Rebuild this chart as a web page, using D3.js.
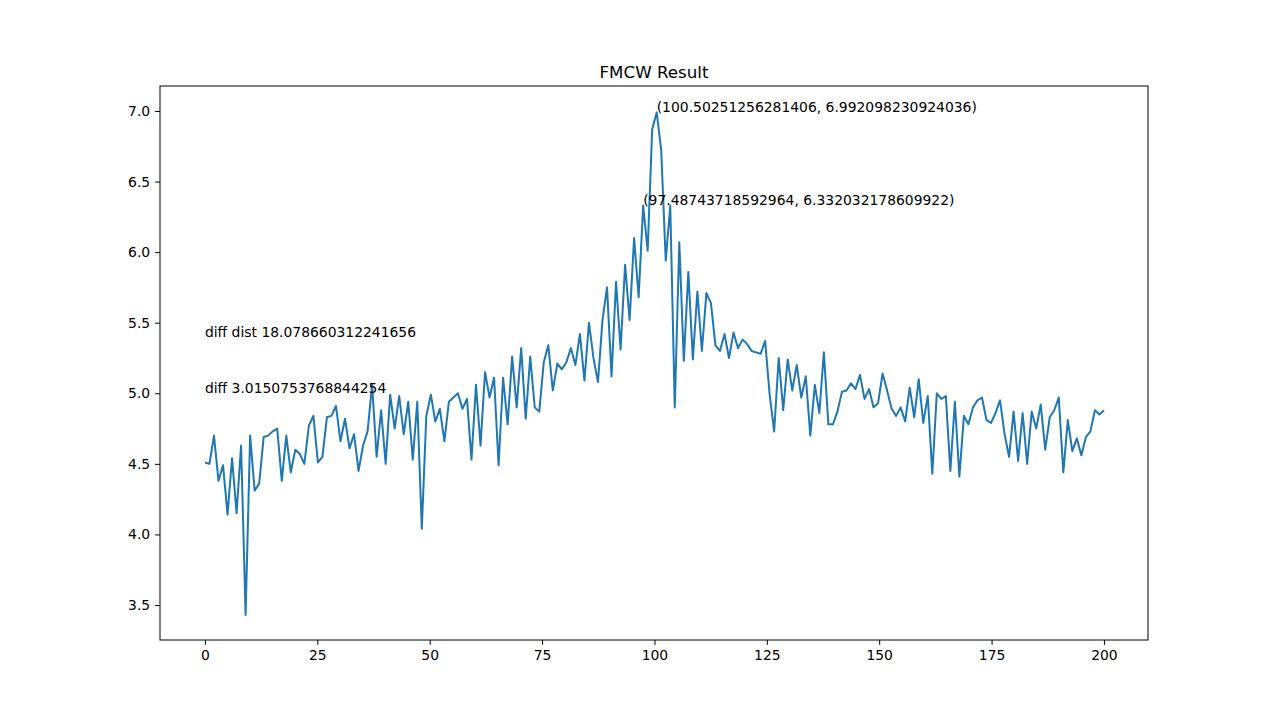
<!DOCTYPE html>
<html>
<head>
<meta charset="utf-8">
<script src="https://cdn.jsdelivr.net/npm/d3@7"></script>
<style>
body { margin: 0; background: #fff; }
text { font-family: "DejaVu Sans", sans-serif; }
</style>
</head>
<body>
<script>
// signal samples, x = i * 200/199
var values = [4.51,4.50,4.70,4.38,4.49,4.14,4.54,4.15,4.63,3.43,4.70,4.31,4.36,4.69,4.70,4.73,4.75,4.38,4.70,4.44,
4.60,4.57,4.50,4.77,4.84,4.51,4.55,4.83,4.84,4.91,4.66,4.82,4.61,4.71,4.45,4.63,4.73,5.06,4.55,4.88,
4.50,4.99,4.75,4.98,4.71,4.94,4.53,4.94,4.04,4.84,4.99,4.80,4.89,4.66,4.94,4.97,5.00,4.89,4.96,4.53,
5.06,4.63,5.15,4.97,5.11,4.49,5.11,4.78,5.26,4.90,5.32,4.82,5.26,4.90,4.87,5.22,5.34,5.02,5.21,5.17,
5.22,5.32,5.20,5.42,5.09,5.50,5.25,5.08,5.52,5.75,5.12,5.79,5.31,5.91,5.52,6.10,5.68,6.33,6.01,6.87,
6.99,6.72,5.94,6.33,4.90,6.07,5.23,5.86,5.24,5.72,5.30,5.71,5.64,5.34,5.30,5.42,5.25,5.43,5.32,5.38,
5.35,5.30,5.29,5.28,5.37,4.99,4.73,5.25,4.88,5.24,5.02,5.20,4.97,5.12,4.70,5.06,4.86,5.29,4.78,4.78,
4.87,5.01,5.02,5.07,5.03,5.13,4.96,5.03,4.90,4.93,5.14,5.02,4.89,4.84,4.90,4.80,5.04,4.83,5.10,4.79,
4.98,4.43,5.00,4.96,4.98,4.45,4.94,4.41,4.84,4.78,4.90,4.95,4.97,4.81,4.79,4.86,4.95,4.71,4.55,4.87,
4.52,4.86,4.50,4.87,4.75,4.92,4.60,4.83,4.88,4.97,4.44,4.81,4.59,4.68,4.56,4.69,4.73,4.88,4.85,4.88];
var xTicks = [0, 25, 50, 75, 100, 125, 150, 175, 200];
var yTicks = [3.5, 4.0, 4.5, 5.0, 5.5, 6.0, 6.5, 7.0];
var notes = [
  {x: 100.50251256281406, y: 6.992098230924036, label: "(100.50251256281406, 6.992098230924036)"},
  {x: 97.48743718592964, y: 6.332032178609922, label: "(97.48743718592964, 6.332032178609922)"},
  {x: 0, y: 5.40, label: "diff dist 18.078660312241656"},
  {x: 0, y: 5.0, label: "diff 3.0150753768844254"}
];

var W = 1276, H = 719;
var mLeft = 160, mRight = 1148, mTop = 86, mBottom = 640;

var svg = d3.select("body").append("svg").attr("width", W).attr("height", H);

var x = d3.scaleLinear().domain([-10, 209.8]).range([mLeft, mRight]);
var y = d3.scaleLinear().domain([3.252, 7.177]).range([mBottom, mTop]);

var pts = values.map(function(v, i) { return [i * 200 / 199, v]; });

svg.append("path")
   .datum(pts)
   .attr("fill", "none")
   .attr("stroke", "#1f77b4")
   .attr("stroke-width", 2)
   .attr("stroke-linejoin", "round")
   .attr("d", d3.line().x(function(d){return x(d[0]);}).y(function(d){return y(d[1]);}));

svg.selectAll("text.note")
   .data(notes)
   .enter()
   .append("text")
   .attr("class", "note")
   .attr("x", function(d){return x(d.x);})
   .attr("y", function(d){return y(d.y);})
   .attr("font-size", "13.9px")
   .text(function(d){return d.label;});

var xa = svg.append("g").attr("transform", "translate(0," + mBottom + ")")
   .call(d3.axisBottom(x).tickValues(xTicks).tickSize(4.9).tickPadding(4.9).tickFormat(d3.format("d")));
var ya = svg.append("g").attr("transform", "translate(" + mLeft + ",0)")
   .call(d3.axisLeft(y).tickValues(yTicks).tickSize(4.9).tickPadding(4.9).tickFormat(d3.format(".1f")));
[xa, ya].forEach(function(a) {
  a.selectAll("text").attr("font-size", "13.9px").attr("font-family", "DejaVu Sans").attr("fill", "#000");
  a.select(".domain").remove();
});

svg.append("rect").attr("x", mLeft).attr("y", mTop)
   .attr("width", mRight - mLeft).attr("height", mBottom - mTop)
   .attr("fill", "none").attr("stroke", "#000").attr("stroke-width", 1);

svg.append("text").attr("x", (mLeft + mRight) / 2).attr("y", mTop - 8)
   .attr("text-anchor", "middle").attr("font-size", "16.7px")
   .text("FMCW Result");
</script>
</body>
</html>
